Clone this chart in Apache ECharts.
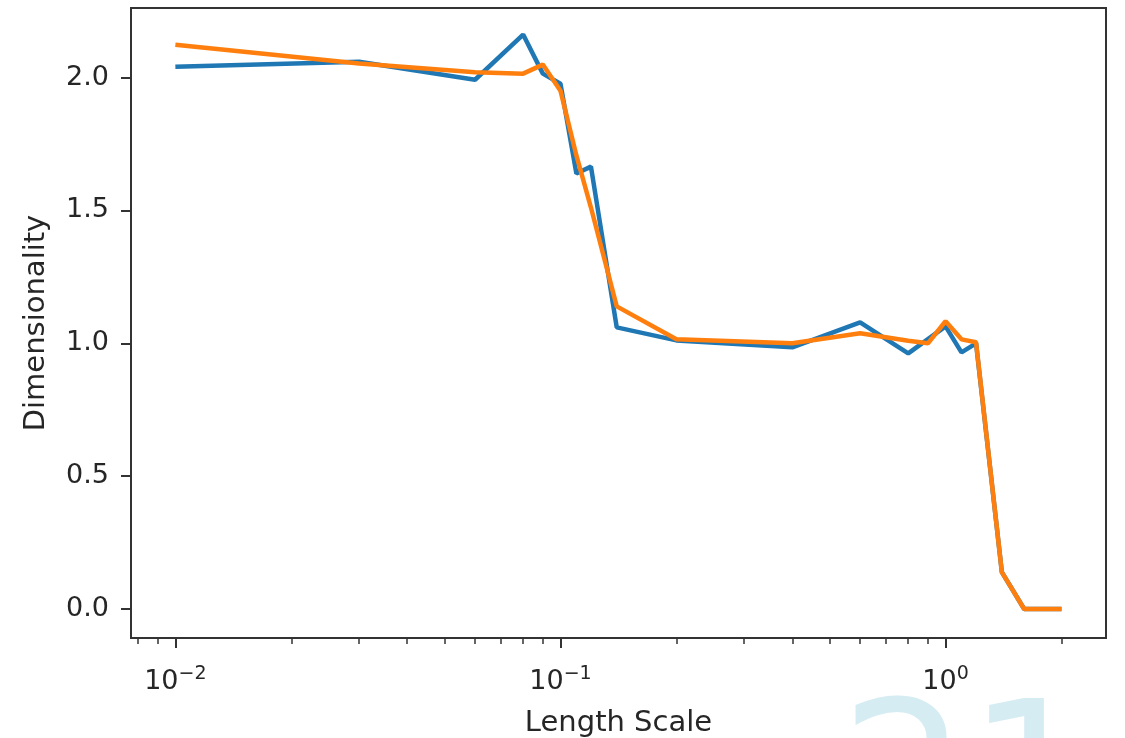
<!DOCTYPE html>
<html>
<head>
<meta charset="utf-8">
<script src="https://cdn.jsdelivr.net/npm/echarts@6/dist/echarts.min.js"></script>
<style>
  html, body { margin: 0; padding: 0; background: #fff; }
  #chart { width: 1125px; height: 738px; }
</style>
</head>
<body>
<div id="chart"></div>
<script>
// Length scales and measured dimensionality for the two runs
const blueScales = [0.01, 0.03, 0.06, 0.08, 0.09, 0.1, 0.11, 0.12, 0.14, 0.2, 0.4, 0.6, 0.8, 1.0, 1.1, 1.2, 1.4, 1.6, 2.0];
const blueDims   = [2.041, 2.06, 1.992, 2.162, 2.015, 1.977, 1.639, 1.665, 1.06, 1.011, 0.985, 1.079, 0.962, 1.064, 0.966, 1.0, 0.139, 0.0, 0.0];

const orangeScales = [0.01, 0.03, 0.06, 0.08, 0.09, 0.1, 0.11, 0.12, 0.14, 0.2, 0.4, 0.6, 0.8, 0.9, 1.0, 1.1, 1.2, 1.4, 1.6, 2.0];
const orangeDims   = [2.124, 2.053, 2.02, 2.015, 2.049, 1.951, 1.707, 1.511, 1.139, 1.015, 1.0, 1.038, 1.01, 1.0, 1.083, 1.015, 1.004, 0.139, 0.0, 0.0];

// Axis ticks
const xMajorTicks = [0.01, 0.1, 1];
const xMinorTicks = [0.008, 0.009, 0.02, 0.03, 0.04, 0.05, 0.06, 0.07, 0.08, 0.09,
                     0.2, 0.3, 0.4, 0.5, 0.6, 0.7, 0.8, 0.9, 2];
const yTicks = [0, 0.5, 1.0, 1.5, 2.0];

const X_MIN = 0.00767, X_MAX = 2.61;
const Y_MIN = -0.109, Y_MAX = 2.262;

const FONT = 'DejaVu Sans';
const TEXT = '#262626';
const SPINE = '#333333';

const pairs = (xs, ys) => xs.map((x, i) => [x, ys[i]]);

const chart = echarts.init(document.getElementById('chart'), null, { renderer: 'canvas' });

chart.setOption({
  animation: false,
  backgroundColor: '#ffffff',
  grid: {
    left: 131, right: 19, top: 8, bottom: 100,
    outerBoundsMode: 'none', containLabel: false,
    show: true, borderColor: SPINE, borderWidth: 2, backgroundColor: 'transparent'
  },
  xAxis: [
    {
      type: 'log', logBase: 10, min: X_MIN, max: X_MAX,
      name: 'Length Scale', nameLocation: 'middle', nameGap: 71,
      nameTextStyle: { fontFamily: FONT, fontSize: 29, color: TEXT },
      axisLine: { show: true, onZero: false, lineStyle: { color: SPINE, width: 2 } },
      axisTick: { show: true, length: 10, lineStyle: { color: SPINE, width: 2 }, customValues: xMajorTicks },
      minorTick: { show: false },
      splitLine: { show: false },
      axisLabel: {
        show: true, margin: 27, customValues: xMajorTicks,
        formatter: function (v) {
          const e = Math.round(Math.log10(v));
          return '{b|10}{s|' + (e < 0 ? '\u2212' : '') + Math.abs(e) + '}';
        },
        rich: {
          b: { fontFamily: FONT, fontSize: 27, color: TEXT, lineHeight: 34 },
          s: { fontFamily: FONT, fontSize: 19, color: TEXT, verticalAlign: 'top', lineHeight: 22 }
        }
      }
    },
    {
      type: 'log', logBase: 10, min: X_MIN, max: X_MAX, gridIndex: 0, position: 'bottom',
      axisLine: { show: false, onZero: false },
      axisTick: { show: true, length: 6, lineStyle: { color: SPINE, width: 1.5 }, customValues: xMinorTicks },
      axisLabel: { show: false },
      splitLine: { show: false }
    }
  ],
  yAxis: {
    type: 'value', min: Y_MIN, max: Y_MAX,
    name: 'Dimensionality', nameLocation: 'middle', nameGap: 80, nameRotate: 90,
    nameTextStyle: { fontFamily: FONT, fontSize: 29, color: TEXT },
    axisLine: { show: true, onZero: false, lineStyle: { color: SPINE, width: 2 } },
    axisTick: { show: true, length: 10, lineStyle: { color: SPINE, width: 2 }, customValues: yTicks },
    axisLabel: {
      show: true, margin: 22, customValues: yTicks,
      fontFamily: FONT, fontSize: 27, color: TEXT,
      formatter: v => v.toFixed(1)
    },
    splitLine: { show: false }
  },
  graphic: [
    {
      type: 'text', left: 840, top: 692, z: 0, silent: true,
      style: { text: '21', font: '200px "DejaVu Sans"', fill: '#d4ecf2' }
    }
  ],
  series: [
    {
      type: 'line', xAxisIndex: 0, data: pairs(blueScales, blueDims),
      showSymbol: false, lineStyle: { color: '#1f77b4', width: 4.5 }, z: 3
    },
    {
      type: 'line', xAxisIndex: 0, data: pairs(orangeScales, orangeDims),
      showSymbol: false, lineStyle: { color: '#ff7f0e', width: 4.5 }, z: 4
    }
  ]
});
</script>
</body>
</html>
